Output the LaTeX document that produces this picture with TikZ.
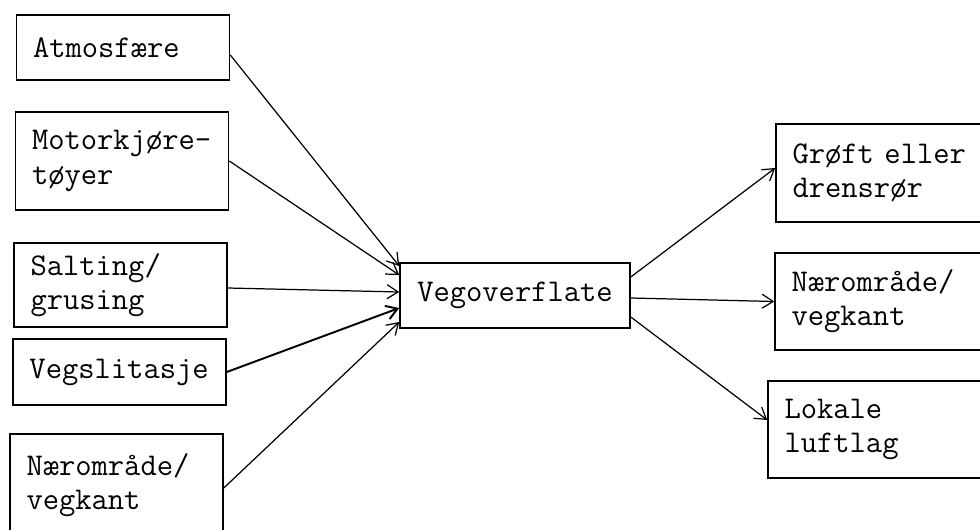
\documentclass[tikz,border=0pt]{standalone}
\usepackage{fontspec}
\usetikzlibrary{arrows.meta}

\begin{document}
\begin{tikzpicture}[
  box/.style={draw, line width=0.9pt, rectangle, align=left, inner xsep=0.33cm,
    text width=3.6cm, font=\ttfamily\fontsize{18pt}{19.5pt}\selectfont},
  flow/.style={line width=0.7pt, -{Straight Barb[length=2.2mm,width=2.8mm]}}
]
\useasboundingbox [fill=white] (0, 0) rectangle (19.6, 10.58);

% sources
\node (atm) at (2.46, 9.63) [box, minimum height=1.30cm] {Atmosfære};
\node (mot) at (2.44, 7.36) [box, minimum height=1.96cm] {Motorkjøre-\\tøyer};
\node (salt) at (2.41, 4.88) [box, minimum height=1.68cm] {Salting/\\grusing};
\node (slit) at (2.39, 3.14) [box, minimum height=1.32cm] {Vegslitasje};
\node (naerL) at (2.33, 0.88) [box, minimum height=2.04cm] {Nærområde/\\vegkant};

% road surface
\node (veg) at (10.30, 4.67) [box, align=center, text width=3.94cm, minimum height=1.30cm] {Vegoverflate};

% recipients
\node (groft) at (17.76, 7.12) [box, text width=3.82cm, minimum height=1.96cm] {Grøft eller\\drensrør};
\node (naerR) at (17.74, 4.55) [box, text width=3.82cm, minimum height=1.94cm] {Nærområde/\\vegkant};
\node (luft) at (17.60, 1.99) [box, text width=3.82cm, minimum height=1.94cm] {Lokale\\luftlag};

\draw [flow] ([yshift=-0.15cm]atm.east) -- ([yshift=0.59cm]veg.west);
\draw [flow] (mot.east) -- ([yshift=0.41cm]veg.west);
\draw [flow] ([yshift=-0.06cm]salt.east) -- ([yshift=0.07cm]veg.west);
\draw [flow, line width=1.1pt] (slit.east) -- ([yshift=-0.25cm]veg.west);
\draw [flow] ([yshift=-0.06cm]naerL.east) -- ([yshift=-0.53cm]veg.west);

\draw [flow] ([yshift=0.37cm]veg.east) -- ([yshift=0.1cm]groft.west);
\draw [flow] ([yshift=-0.05cm]veg.east) -- (naerR.west);
\draw [flow] ([yshift=-0.43cm]veg.east) -- ([yshift=0.19cm]luft.west);
\end{tikzpicture}
\end{document}
